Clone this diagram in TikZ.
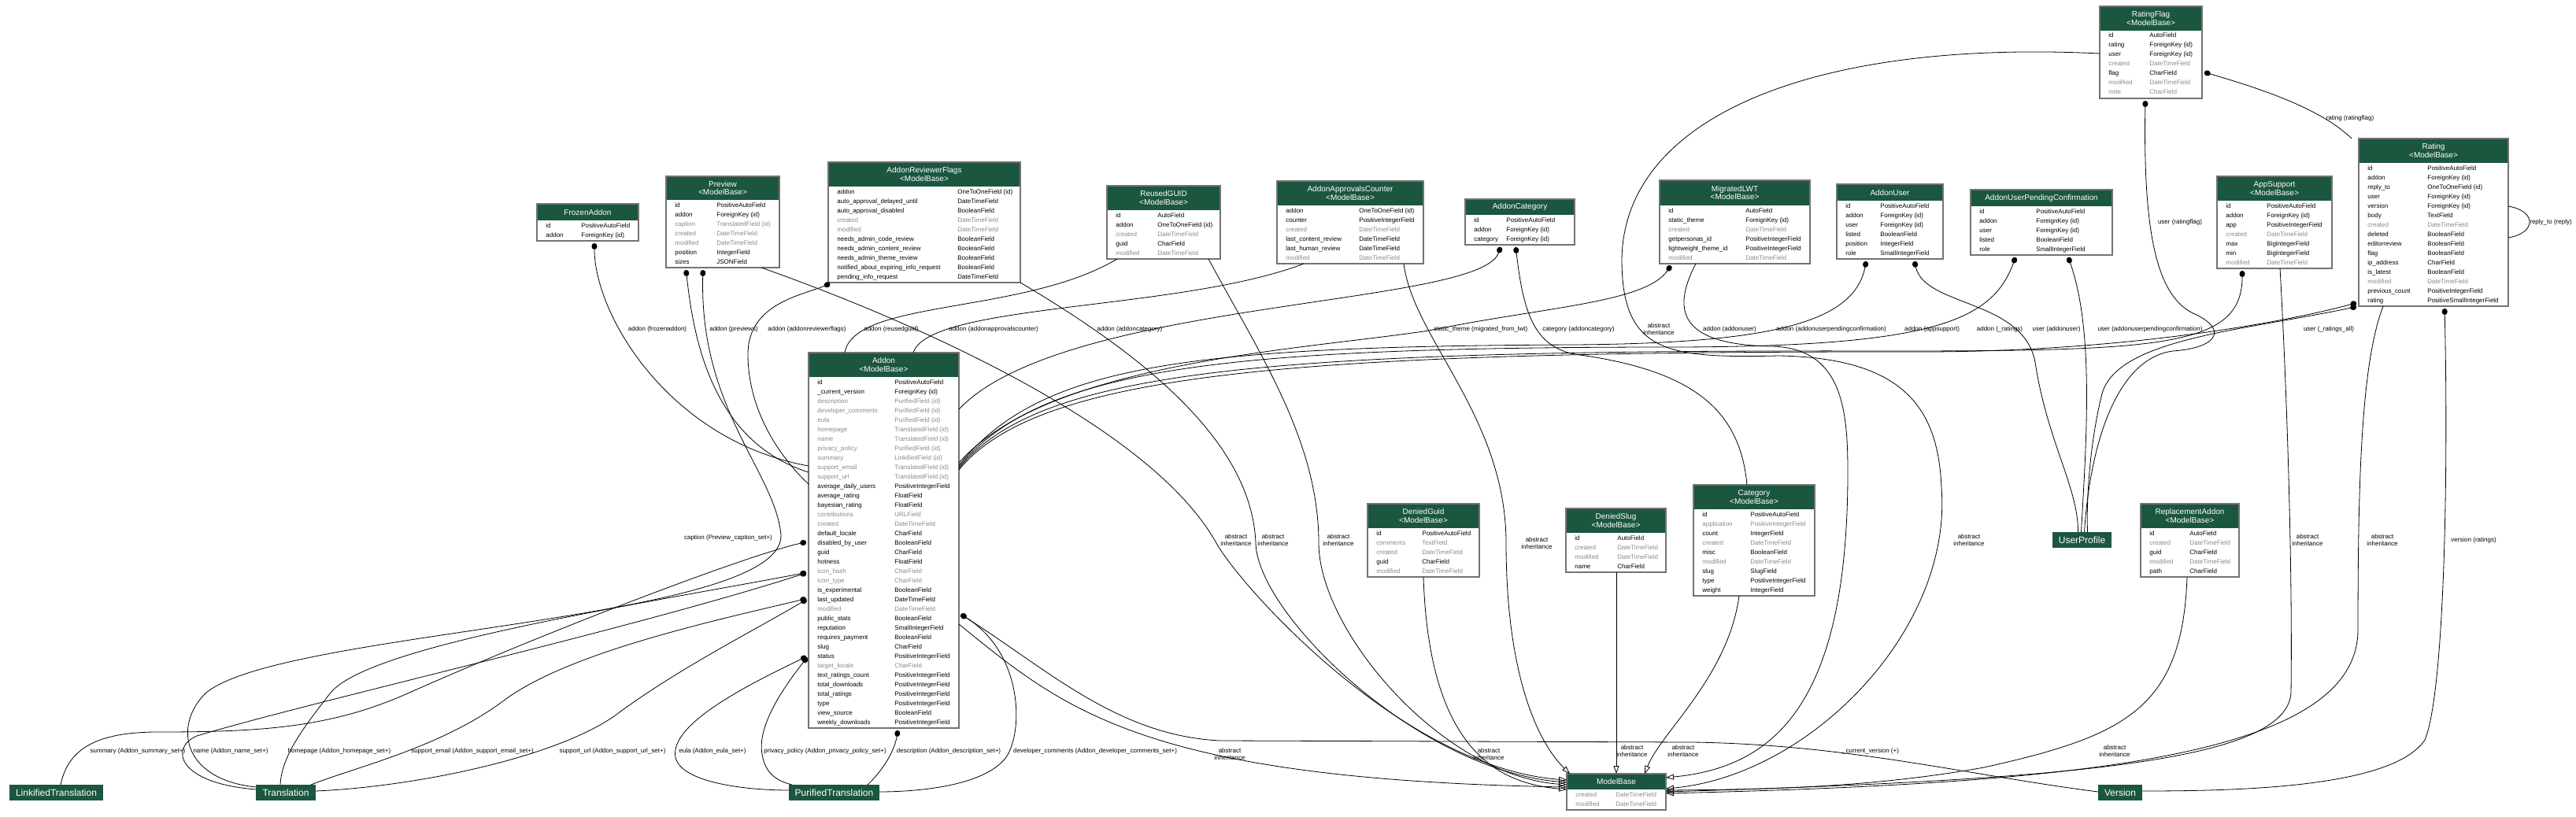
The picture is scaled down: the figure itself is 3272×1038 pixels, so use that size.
\documentclass[tikz,border=0pt]{standalone}
\usepackage{fontspec}
\setmainfont{Liberation Sans}
\usetikzlibrary{arrows.meta,calc}
\definecolor{hdgreen}{HTML}{1B563F}
\definecolor{fgray}{HTML}{8A8A8A}

% #1 name, #2 x, #3 y, #4 width, #5 type column, #6 title, #7 title height, #8 rows, #9 fields
\newcommand{\modeltable}[9]{%
  \node[tablebox, minimum width=#4, minimum height=#7+12*#8+2] (#1) at (#2,#3) {};
  \node[tablehead, minimum width=#4, minimum height=#7] (#1-head) at (#2,#3) {#6};
  \foreach \fname/\ftype/\fcol [count=\i] in {#9} {
    \node[field, text=\fcol] (#1-n\i) at ({#2+11},{#3+#7+12*\i-3}) {\fname};
    \node[field, text=\fcol] (#1-t\i) at ({#2+#5},{#3+#7+12*\i-3}) {\ftype};
  }
  \draw[tableline] (#1.north west) rectangle (#1.south east);
}

\begin{document}
\begin{tikzpicture}[x=1pt,y=-1pt,line width=0.8pt]
\tikzstyle{tablebox}=[fill=white, anchor=north west, inner sep=0pt, outer sep=0pt]
\tikzstyle{tablehead}=[fill=hdgreen, text=white, font=\fontsize{10}{10.5}\selectfont, align=center, anchor=north west, inner sep=0pt, outer sep=0pt]
\tikzstyle{tableline}=[draw=black!55, line width=1.4pt]
\tikzstyle{field}=[font=\fontsize{8}{9}\selectfont, anchor=base west, inner sep=0pt]
\tikzstyle{extnode}=[fill=hdgreen, text=white, font=\fontsize{12}{13}\selectfont, anchor=north west, minimum height=20pt, inner sep=0pt, outer sep=0pt]
\tikzstyle{lbl}=[font=\fontsize{8}{8.5}\selectfont, align=center, inner sep=0pt]
\tikzstyle{fk}=[{Circle[length=8pt,width=7pt]}-, shorten <=3pt]
\tikzstyle{inh}=[-{Triangle[open,length=10pt,width=7pt]}]

\fill[white] (0,0) rectangle (3272,1038);
\useasboundingbox (0,0) rectangle (3272,1038);

% models
\modeltable{frozen}{682}{259}{129}{56}{FrozenAddon}{21}{2}{id/PositiveAutoField/black, addon/ForeignKey (id)/black}
\modeltable{preview}{846}{224}{144}{64}{Preview\\<ModelBase>}{30}{7}{id/PositiveAutoField/black, addon/ForeignKey (id)/black, caption/TranslatedField (id)/fgray, created/DateTimeField/fgray, modified/DateTimeField/fgray, position/IntegerField/black, sizes/JSONField/black}
\modeltable{flags}{1052}{206}{244}{164}{AddonReviewerFlags\\<ModelBase>}{31}{10}{addon/OneToOneField (id)/black, auto\_approval\_delayed\_until/DateTimeField/black, auto\_approval\_disabled/BooleanField/black, created/DateTimeField/fgray, modified/DateTimeField/fgray, needs\_admin\_code\_review/BooleanField/black, needs\_admin\_content\_review/BooleanField/black, needs\_admin\_theme\_review/BooleanField/black, notified\_about\_expiring\_info\_request/BooleanField/black, pending\_info\_request/DateTimeField/black}
\modeltable{reused}{1406}{236}{144}{64}{ReusedGUID\\<ModelBase>}{31}{5}{id/AutoField/black, addon/OneToOneField (id)/black, created/DateTimeField/fgray, guid/CharField/black, modified/DateTimeField/fgray}
\modeltable{counter}{1622}{230}{186}{104}{AddonApprovalsCounter\\<ModelBase>}{31}{6}{addon/OneToOneField (id)/black, counter/PositiveIntegerField/black, created/DateTimeField/fgray, last\_content\_review/DateTimeField/black, last\_human\_review/DateTimeField/black, modified/DateTimeField/fgray}
\modeltable{addoncat}{1861}{253}{139}{52}{AddonCategory}{20}{3}{id/PositiveAutoField/black, addon/ForeignKey (id)/black, category/ForeignKey (id)/black}
\modeltable{migrated}{2108}{229}{191}{109}{MigratedLWT\\<ModelBase>}{32}{6}{id/AutoField/black, static\_theme/ForeignKey (id)/black, created/DateTimeField/fgray, getpersonas\_id/PositiveIntegerField/black, lightweight\_theme\_id/PositiveIntegerField/black, modified/DateTimeField/fgray}
\modeltable{addonuser}{2333}{234}{135}{55}{AddonUser}{21}{6}{id/PositiveAutoField/black, addon/ForeignKey (id)/black, user/ForeignKey (id)/black, listed/BooleanField/black, position/IntegerField/black, role/SmallIntegerField/black}
\modeltable{pending}{2503}{241}{180}{83}{AddonUserPendingConfirmation}{21}{5}{id/PositiveAutoField/black, addon/ForeignKey (id)/black, user/ForeignKey (id)/black, listed/BooleanField/black, role/SmallIntegerField/black}
\modeltable{ratingflag}{2667}{8}{130}{63}{RatingFlag\\<ModelBase>}{31}{7}{id/AutoField/black, rating/ForeignKey (id)/black, user/ForeignKey (id)/black, created/DateTimeField/fgray, flag/CharField/black, modified/DateTimeField/fgray, note/CharField/fgray}
\modeltable{appsupport}{2816}{224}{146}{63}{AppSupport\\<ModelBase>}{31}{7}{id/PositiveAutoField/black, addon/ForeignKey (id)/black, app/PositiveIntegerField/black, created/DateTimeField/fgray, max/BigIntegerField/black, min/BigIntegerField/black, modified/DateTimeField/fgray}
\modeltable{rating}{2996}{176}{190}{87}{Rating\\<ModelBase>}{31}{15}{id/PositiveAutoField/black, addon/ForeignKey (id)/black, reply\_to/OneToOneField (id)/black, user/ForeignKey (id)/black, version/ForeignKey (id)/black, body/TextField/black, created/DateTimeField/fgray, deleted/BooleanField/black, editorreview/BooleanField/black, flag/BooleanField/black, ip\_address/CharField/black, is\_latest/BooleanField/black, modified/DateTimeField/fgray, previous\_count/PositiveIntegerField/black, rating/PositiveSmallIntegerField/black}
\modeltable{addon}{1027}{448}{191}{109}{Addon\\<ModelBase>}{31}{37}{id/PositiveAutoField/black, \_current\_version/ForeignKey (id)/black, description/PurifiedField (id)/fgray, developer\_comments/PurifiedField (id)/fgray, eula/PurifiedField (id)/fgray, homepage/TranslatedField (id)/fgray, name/TranslatedField (id)/fgray, privacy\_policy/PurifiedField (id)/fgray, summary/LinkifiedField (id)/fgray, support\_email/TranslatedField (id)/fgray, support\_url/TranslatedField (id)/fgray, average\_daily\_users/PositiveIntegerField/black, average\_rating/FloatField/black, bayesian\_rating/FloatField/black, contributions/URLField/fgray, created/DateTimeField/fgray, default\_locale/CharField/black, disabled\_by\_user/BooleanField/black, guid/CharField/black, hotness/FloatField/black, icon\_hash/CharField/fgray, icon\_type/CharField/fgray, is\_experimental/BooleanField/black, last\_updated/DateTimeField/black, modified/DateTimeField/fgray, public\_stats/BooleanField/black, reputation/SmallIntegerField/black, requires\_payment/BooleanField/black, slug/CharField/black, status/PositiveIntegerField/black, target\_locale/CharField/fgray, text\_ratings\_count/PositiveIntegerField/black, total\_downloads/PositiveIntegerField/black, total\_ratings/PositiveIntegerField/black, type/PositiveIntegerField/black, view\_source/BooleanField/black, weekly\_downloads/PositiveIntegerField/black}
\modeltable{deniedguid}{1737}{640}{142}{69}{DeniedGuid\\<ModelBase>}{31}{5}{id/PositiveAutoField/black, comments/TextField/fgray, created/DateTimeField/fgray, guid/CharField/black, modified/DateTimeField/fgray}
\modeltable{deniedslug}{1989}{646}{127}{65}{DeniedSlug\\<ModelBase>}{31}{4}{id/AutoField/black, created/DateTimeField/fgray, modified/DateTimeField/fgray, name/CharField/black}
\modeltable{category}{2151}{616}{154}{72}{Category\\<ModelBase>}{31}{9}{id/PositiveAutoField/black, application/PositiveIntegerField/fgray, count/IntegerField/black, created/DateTimeField/fgray, misc/BooleanField/black, modified/DateTimeField/fgray, slug/SlugField/black, type/PositiveIntegerField/black, weight/IntegerField/black}
\modeltable{replacement}{2719}{640}{125}{62}{ReplacementAddon\\<ModelBase>}{31}{5}{id/AutoField/black, created/DateTimeField/fgray, guid/CharField/black, modified/DateTimeField/fgray, path/CharField/black}
\modeltable{modelbase}{1990}{983}{126}{62}{ModelBase}{20}{2}{created/DateTimeField/fgray, modified/DateTimeField/fgray}

% models of other apps
\node[extnode, minimum width=119] (linkified) at (12,997) {LinkifiedTranslation};
\node[extnode, minimum width=76] (translation) at (325,997) {Translation};
\node[extnode, minimum width=115] (purified) at (1002,997) {PurifiedTranslation};
\node[extnode, minimum width=75] (userprofile) at (2607,676) {UserProfile};
\node[extnode, minimum width=56] (version) at (2665,997) {Version};

% relations into Addon
\draw[fk] ($(frozen.south west)+(73,0)$) .. controls (755,400) and (850,560) .. ($(addon.north west)+(0,144)$);
\draw[fk] ($(preview.south west)+(25,0)$) .. controls (880,420) and (900,560) .. ($(addon.north west)+(0,152)$);
\draw[fk] ($(flags.south west)+(5,0)$) .. controls (1020,375) and (950,385) .. (950,450) .. controls (950,530) and (1000,590) .. ($(addon.north west)+(0,167)$);
\draw ($(reused.south west)+(13,0)$) .. controls (1300,400) and (1085,380) .. ($(addon.north west)+(46,0)$);
\draw ($(counter.south west)+(34,0)$) .. controls (1500,395) and (1180,385) .. ($(addon.north west)+(133,0)$);
\draw[fk] ($(addoncat.south west)+(46,0)$) .. controls (1880,390) and (1350,380) .. ($(addon.north east)+(0,72)$);
\draw[fk] ($(migrated.south west)+(16,0)$) .. controls (2090,385) and (1960,390) .. (1815,420) .. controls (1650,445) and (1330,460) .. ($(addon.north east)+(0,140)$);
\draw[fk] ($(addonuser.south west)+(38,0)$) .. controls (2355,410) and (2250,436) .. (2000,438) .. controls (1500,440) and (1320,465) .. ($(addon.north east)+(0,143)$);
\draw[fk] ($(pending.south west)+(58,0)$) .. controls (2530,410) and (2450,442) .. (2100,441) .. controls (1550,442) and (1320,468) .. ($(addon.north east)+(0,145)$);
\draw[fk] ($(appsupport.south west)+(32,0)$) .. controls (2848,440) and (2750,446) .. (2400,446) .. controls (1600,444) and (1320,470) .. ($(addon.north east)+(0,147)$);
\draw[fk] ($(rating.south west)+(0,-5)$) .. controls (2900,410) and (2700,446) .. (2450,447) .. controls (1650,446) and (1320,472) .. ($(addon.north east)+(0,149)$);

% relations into UserProfile, Rating, Category
\draw[fk] ($(addonuser.south west)+(98,0)$) .. controls (2445,390) and (2570,380) .. (2585,460) .. controls (2600,560) and (2640,620) .. ($(userprofile.north)+(-5,0)$);
\draw[fk] ($(pending.south west)+(123,0)$) .. controls (2660,420) and (2650,560) .. ($(userprofile.north)+(-1,0)$);
\draw[fk] ($(ratingflag.south west)+(58,0)$) .. controls (2722,300) and (2740,380) .. (2790,400) .. controls (2830,420) and (2815,442) .. (2760,446) .. controls (2690,455) and (2655,560) .. ($(userprofile.north)+(3,0)$);
\draw[fk] (rating.south west) .. controls (2850,420) and (2690,430) .. (2670,500) .. controls (2655,560) and (2650,630) .. ($(userprofile.north)+(7,0)$);
\draw[fk] ($(ratingflag.north east)+(0,83)$) .. controls (2880,115) and (2950,140) .. ($(rating.north west)+(-9,0)$);
\draw ($(rating.north east)+(0,86)$) .. controls (3222,268) and (3222,296) .. ($(rating.north east)+(0,126)$);
\draw[fk] ($(rating.south west)+(109,0)$) .. controls (3110,600) and (3105,880) .. (3080,940) .. controls (3040,1000) and (2850,1005) .. ($(version.north east)+(0,8)$);
\draw[fk] ($(addoncat.south west)+(64,0)$) .. controls (1935,400) and (1950,440) .. (2000,450) .. controls (2150,470) and (2210,520) .. ($(category.north west)+(68,0)$);

% translated fields and version of Addon
\draw[fk] ($(addon.north west)+(0,240)$) .. controls (950,705) and (700,800) .. (520,880) .. controls (420,925) and (330,930) .. (200,930) .. controls (110,930) and (85,960) .. ($(linkified.north west)+(65,0)$);
\draw[fk] ($(addon.north west)+(0,279)$) .. controls (800,800) and (400,890) .. (250,935) .. controls (215,950) and (225,995) .. ($(translation.north west)+(0,6)$);
\draw[fk] ($(addon.north west)+(0,279)$) .. controls (800,770) and (470,820) .. (420,880) .. controls (385,925) and (358,960) .. ($(translation.north west)+(31,0)$);
\draw[fk] ($(addon.north west)+(0,312)$) .. controls (900,790) and (720,830) .. (640,890) .. controls (560,950) and (450,975) .. ($(translation.north east)+(-6,0)$);
\draw[fk] ($(addon.north west)+(0,312)$) .. controls (960,800) and (860,850) .. (780,910) .. controls (700,965) and (520,1000) .. ($(translation.north east)+(0,8)$);
\draw[fk] ($(addon.north west)+(0,385)$) .. controls (950,870) and (850,920) .. (858,962) .. controls (865,995) and (950,1004) .. ($(purified.north west)+(0,7)$);
\draw[fk] ($(addon.north west)+(0,385)$) .. controls (990,880) and (962,925) .. (968,958) .. controls (972,985) and (990,993) .. ($(purified.north west)+(4,0)$);
\draw[fk] ($(addon.south west)+(114,0)$) .. controls (1135,960) and (1115,985) .. ($(purified.north west)+(100,0)$);
\draw[fk] ($(addon.north east)+(0,331)$) .. controls (1300,830) and (1300,930) .. (1278,962) .. controls (1250,1000) and (1160,1006) .. ($(purified.north east)+(0,9)$);
\draw[fk] ($(addon.north east)+(0,331)$) .. controls (1330,850) and (1420,935) .. (1550,941) -- (2150,943) .. controls (2350,946) and (2500,985) .. ($(version.north west)+(0,9)$);
\draw[fk] ($(preview.south west)+(47,0)$) .. controls (888,520) and (985,600) .. (992,680) .. controls (995,790) and (360,800) .. (262,880) .. controls (220,920) and (230,990) .. ($(translation.north west)+(0,3)$);

% abstract inheritance
\draw[inh] ($(preview.south west)+(121,0)$) .. controls (1080,380) and (1450,520) .. (1545,690) .. controls (1575,744) and (1780,975) .. ($(modelbase.north west)+(0,8)$);
\draw[inh] (flags.south east) .. controls (1450,450) and (1590,560) .. (1595,690) .. controls (1597,780) and (1800,978) .. ($(modelbase.north west)+(0,11)$);
\draw[inh] ($(reused.south west)+(129,0)$) .. controls (1600,450) and (1675,560) .. (1675,690) .. controls (1675,800) and (1830,985) .. ($(modelbase.north west)+(0,14)$);
\draw[inh] ($(counter.south west)+(161,0)$) .. controls (1795,430) and (1913,530) .. (1913,690) .. controls (1913,850) and (1950,940) .. ($(modelbase.north west)+(4,0)$);
\draw[inh] ($(addon.north east)+(0,345)$) .. controls (1350,900) and (1450,990) .. ($(modelbase.north west)+(0,17)$);
\draw[inh] ($(deniedguid.south west)+(71,0)$) .. controls (1815,950) and (1900,995) .. ($(modelbase.north west)+(0,20)$);
\draw[inh] ($(deniedslug.south west)+(64,0)$) -- ($(modelbase.north west)+(63,0)$);
\draw[inh] ($(category.south west)+(58,0)$) .. controls (2195,860) and (2110,930) .. ($(modelbase.north west)+(99,0)$);
\draw[inh] ($(migrated.south west)+(46,0)$) .. controls (2120,400) and (2140,438) .. (2250,440) .. controls (2340,442) and (2347,520) .. (2347,600) .. controls (2347,900) and (2250,975) .. ($(modelbase.north east)+(0,5)$);
\draw[inh] ($(ratingflag.north west)+(0,60)$) .. controls (2300,50) and (2062,150) .. (2060,330) .. controls (2060,450) and (2120,455) .. (2260,452) .. controls (2420,455) and (2462,520) .. (2466,620) .. controls (2480,800) and (2300,985) .. ($(modelbase.north east)+(0,19)$);
\draw[inh] ($(replacement.south west)+(59,0)$) .. controls (2772,900) and (2700,935) .. (2520,975) .. controls (2380,1000) and (2250,1003) .. ($(modelbase.north east)+(0,21)$);
\draw[inh] ($(appsupport.south west)+(80,0)$) .. controls (2905,500) and (2912,720) .. (2910,880) .. controls (2905,965) and (2650,990) .. ($(modelbase.north east)+(0,23)$);
\draw[inh] ($(rating.south west)+(31,0)$) .. controls (3000,460) and (2995,600) .. (2995,800) .. controls (2995,960) and (2650,995) .. ($(modelbase.north east)+(0,25)$);

% labels
\node[lbl] (l-frozen) at (835,418) {addon (frozenaddon)};
\node[lbl] (l-previews) at (932,418) {addon (previews)};
\node[lbl] (l-flags) at (1025,418) {addon (addonreviewerflags)};
\node[lbl] (l-reused) at (1132,418) {addon (reusedguid)};
\node[lbl] (l-counter) at (1262,418) {addon (addonapprovalscounter)};
\node[lbl] (l-addoncat) at (1435,418) {addon (addoncategory)};
\node[lbl] (l-static) at (1881,418) {static\_theme (migrated\_from\_lwt)};
\node[lbl] (l-category) at (2005,418) {category (addoncategory)};
\node[lbl] (i-migrated) at (2107,418) {abstract\\inheritance};
\node[lbl] (l-addonuser) at (2197,418) {addon (addonuser)};
\node[lbl] (l-pending) at (2326,418) {addon (addonuserpendingconfirmation)};
\node[lbl] (l-appsupport) at (2454,418) {addon (appsupport)};
\node[lbl] (l-ratings) at (2540,418) {addon (\_ratings)};
\node[lbl] (l-useraddon) at (2612,418) {user (addonuser)};
\node[lbl] (l-userpending) at (2731,418) {user (addonuserpendingconfirmation)};
\node[lbl] (l-userratings) at (2958,418) {user (\_ratings\_all)};
\node[lbl] (l-userflag) at (2769,282) {user (ratingflag)};
\node[lbl] (l-rating) at (2985,150) {rating (ratingflag)};
\node[lbl] (l-reply) at (3240,282) {reply\_to (reply)};
\node[lbl] (l-version) at (3142,686) {version (ratings)};
\node[lbl] (l-caption) at (925,683) {caption (Preview\_caption\_set+)};
\node[lbl] (i-preview) at (1570,686) {abstract\\inheritance};
\node[lbl] (i-flags) at (1617,686) {abstract\\inheritance};
\node[lbl] (i-reused) at (1700,686) {abstract\\inheritance};
\node[lbl] (i-counter) at (1952,690) {abstract\\inheritance};
\node[lbl] (i-ratingflag) at (2501,686) {abstract\\inheritance};
\node[lbl] (i-appsupport) at (2931,686) {abstract\\inheritance};
\node[lbl] (i-rating) at (3026,686) {abstract\\inheritance};
\node[lbl] (i-addon) at (1562,958) {abstract\\inheritance};
\node[lbl] (i-deniedguid) at (1891,958) {abstract\\inheritance};
\node[lbl] (i-deniedslug) at (2073,954) {abstract\\inheritance};
\node[lbl] (i-category) at (2138,954) {abstract\\inheritance};
\node[lbl] (i-replacement) at (2686,954) {abstract\\inheritance};
\node[lbl] (l-current) at (2376,954) {\_current\_version (+)};
\node[lbl] (l-summary) at (175,954) {summary (Addon\_summary\_set+)};
\node[lbl] (l-name) at (293,954) {name (Addon\_name\_set+)};
\node[lbl] (l-homepage) at (431,954) {homepage (Addon\_homepage\_set+)};
\node[lbl] (l-email) at (600,954) {support\_email (Addon\_support\_email\_set+)};
\node[lbl] (l-url) at (778,954) {support\_url (Addon\_support\_url\_set+)};
\node[lbl] (l-eula) at (905,954) {eula (Addon\_eula\_set+)};
\node[lbl] (l-privacy) at (1048,954) {privacy\_policy (Addon\_privacy\_policy\_set+)};
\node[lbl] (l-description) at (1205,954) {description (Addon\_description\_set+)};
\node[lbl] (l-devcomments) at (1391,954) {developer\_comments (Addon\_developer\_comments\_set+)};
\end{tikzpicture}
\end{document}
